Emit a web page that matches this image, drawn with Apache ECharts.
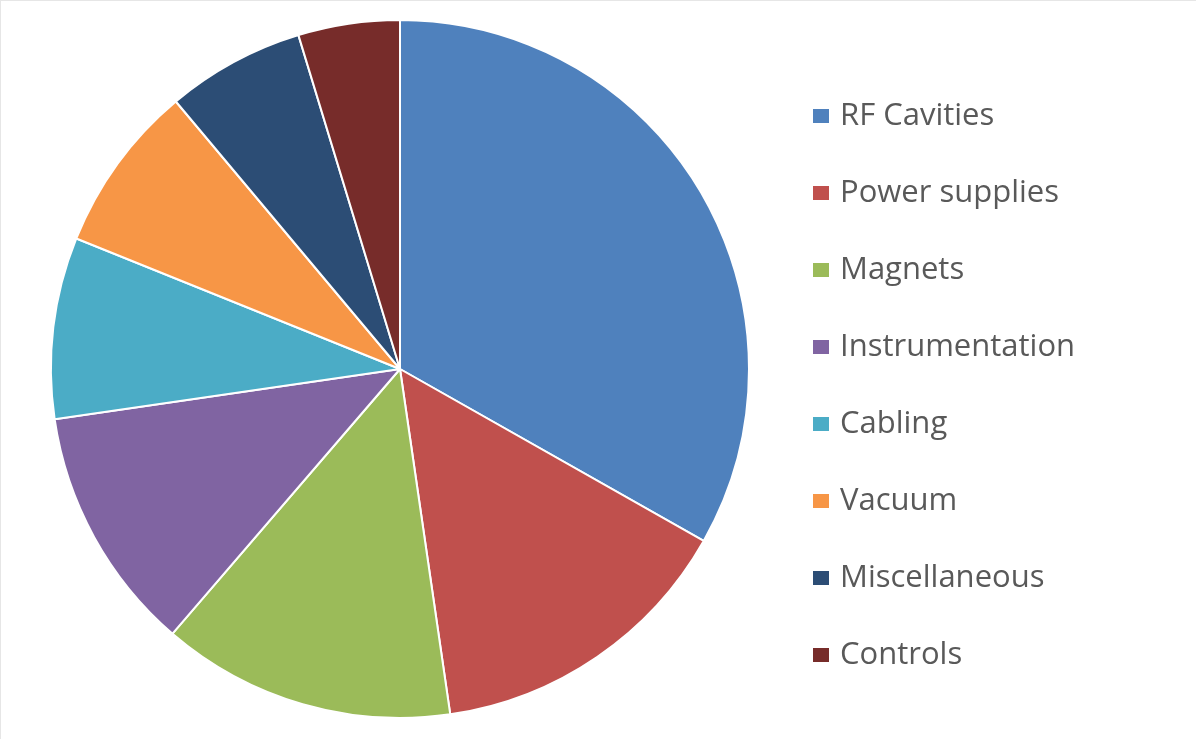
<!DOCTYPE html>
<html>
<head>
<meta charset="utf-8">
<script src="https://cdn.jsdelivr.net/npm/echarts@6/dist/echarts.min.js"></script>
<style>
html,body{margin:0;padding:0;background:#fff;}
#chart{width:1196px;height:739px;box-sizing:border-box;border-top:1px solid #e6e6e6;border-left:1px solid #e6e6e6;}
</style>
</head>
<body>
<div id="chart"></div>
<script>
const categories = ["RF Cavities","Power supplies","Magnets","Instrumentation","Cabling","Vacuum","Miscellaneous","Controls"];
const values = [33.2, 14.5, 13.6, 11.4, 8.4, 7.8, 6.4, 4.7];
const colors = ["#4F81BD","#C0504D","#9BBB59","#8064A2","#4BACC6","#F79646","#2C4D75","#772C2A"];

const chart = echarts.init(document.getElementById('chart'), null, {renderer:'canvas'});
chart.setOption({
  animation:false,
  color: colors,
  legend:{
    orient:'vertical',
    left:810,
    top:99,
    padding:0,
    itemWidth:18,
    itemHeight:16,
    itemGap:45,
    icon:'rect',
    data: categories,
    textStyle:{fontFamily:'Open Sans', fontSize:31, color:'#595959', lineHeight:32, padding:[0,0,0,5]}
  },
  series:[{
    type:'pie',
    center:[399,368],
    radius:[0,349],
    startAngle:90,
    clockwise:true,
    label:{show:false},
    labelLine:{show:false},
    itemStyle:{borderColor:'#fff', borderWidth:2},
    emphasis:{disabled:true},
    data: categories.map((c,i)=>({name:c, value:values[i]}))
  }]
});
</script>
</body>
</html>
